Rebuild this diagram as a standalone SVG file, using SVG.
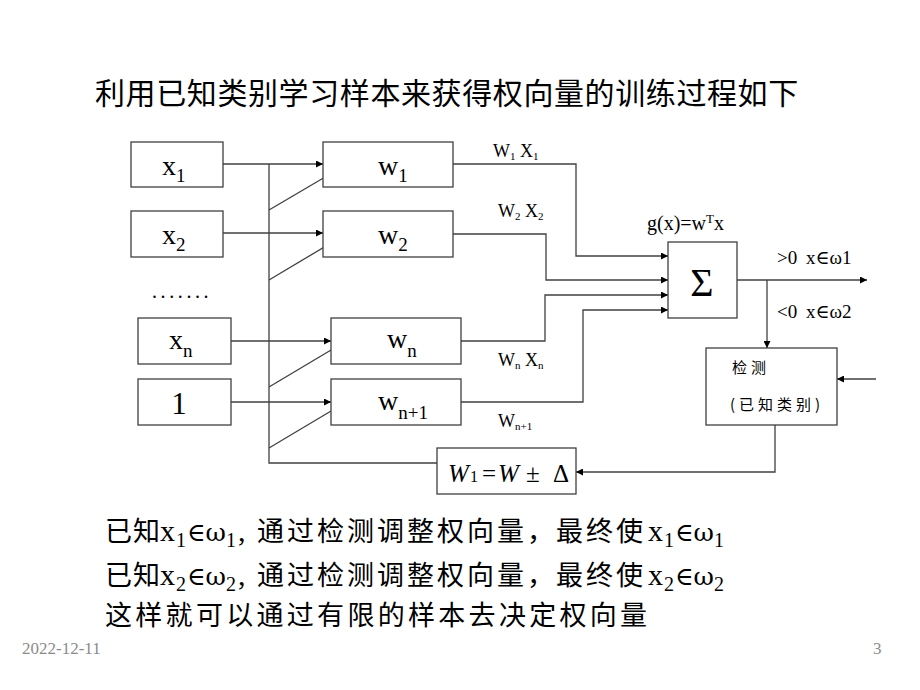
<svg xmlns="http://www.w3.org/2000/svg" width="920" height="690" viewBox="0 0 920 690">
<defs>
<marker id="ah" viewBox="0 0 10 10" refX="10" refY="5" markerWidth="9" markerHeight="7" markerUnits="userSpaceOnUse" orient="auto">
<path d="M0,0 L10,5 L0,10 z" fill="#000"/>
</marker>
<style>
.box{fill:#fff;stroke:#404040;stroke-width:1.3}
.ln{fill:none;stroke:#404040;stroke-width:1.3}
.a{marker-end:url(#ah)}
.m{font-family:"Liberation Serif","DejaVu Serif",serif;fill:#000}
.dv{font-family:"DejaVu Serif","Liberation Serif",serif;fill:#000}
.cjk{font-family:"Noto Sans CJK SC","Noto Sans",sans-serif;fill:#000}
.lbl{font-family:"Liberation Serif","DejaVu Serif",serif;font-size:18px;fill:#000}
</style>
</defs>
<rect width="920" height="690" fill="#fff"/>
<text class="cjk" x="95" y="104" font-size="30" letter-spacing="0.6">利用已知类别学习样本来获得权向量的训练过程如下</text>

<g id="connectors">
<path class="ln a" d="M223,164 H323"/>
<path class="ln a" d="M223,233 H323"/>
<path class="ln a" d="M231,341 H331"/>
<path class="ln a" d="M231,402 H331"/>
<path class="ln" d="M269,164 V463 H437"/>
<path class="ln a" d="M269,210 L383,143"/>
<path class="ln a" d="M269,280 L383,212"/>
<path class="ln a" d="M269,387 L383,319"/>
<path class="ln a" d="M269,448 L383,380"/>
<path class="ln a" d="M453,164 H576 V256 H668"/>
<path class="ln a" d="M453,234 H546 V280 H668"/>
<path class="ln a" d="M461,341 H545 V295 H668"/>
<path class="ln a" d="M461,402 H583 V310 H668"/>
<path class="ln a" d="M737,280 H867"/>
<path class="ln a" d="M767,280 V348"/>
<path class="ln a" d="M876,379 H837"/>
<path class="ln a" d="M775,425 V472 H576"/>
</g>

<g id="x1"><rect class="box" x="131" y="142" width="92" height="45"/>
<text class="m" x="162" y="175" font-size="28">x<tspan font-size="19" dy="7">1</tspan></text></g>
<g id="x2"><rect class="box" x="131" y="211" width="92" height="46"/>
<text class="m" x="162" y="244" font-size="28">x<tspan font-size="19" dy="7">2</tspan></text></g>
<text class="m" x="152" y="298" font-size="20" letter-spacing="3.6">.......</text>
<g id="xn"><rect class="box" x="138" y="318" width="93" height="46"/>
<text class="m" x="169" y="349" font-size="28">x<tspan font-size="19" dy="8">n</tspan></text></g>
<g id="one"><rect class="box" x="138" y="379" width="93" height="46"/>
<text class="m" x="179" y="414" font-size="31" text-anchor="middle">1</text></g>

<g id="w1"><rect class="box" x="323" y="142" width="130" height="45"/>
<text class="m" x="378" y="175" font-size="28">w<tspan font-size="19" dy="7">1</tspan></text></g>
<g id="w2"><rect class="box" x="323" y="211" width="130" height="46"/>
<text class="m" x="378" y="244" font-size="28">w<tspan font-size="19" dy="7">2</tspan></text></g>
<g id="wn"><rect class="box" x="331" y="318" width="130" height="46"/>
<text class="m" x="387" y="348" font-size="28">w<tspan font-size="19" dy="9">n</tspan></text></g>
<g id="wn1"><rect class="box" x="331" y="379" width="130" height="46"/>
<text class="m" x="378" y="410" font-size="28">w<tspan font-size="19" dy="9">n+1</tspan></text></g>

<text class="lbl" x="493" y="157">W<tspan font-size="11" dy="3">1</tspan><tspan dy="-3"> X</tspan><tspan font-size="11" dy="3">1</tspan></text>
<text class="lbl" x="498" y="217">W<tspan font-size="11" dy="3">2</tspan><tspan dy="-3"> X</tspan><tspan font-size="11" dy="3">2</tspan></text>
<text class="lbl" x="498" y="366">W<tspan font-size="11" dy="3">n</tspan><tspan dy="-3"> X</tspan><tspan font-size="11" dy="3">n</tspan></text>
<text class="lbl" x="498" y="427">W<tspan font-size="11" dy="3">n+1</tspan></text>

<g id="sum"><rect class="box" x="668" y="242" width="69" height="76"/>
<text class="m" x="702" y="296" font-size="40" text-anchor="middle">Σ</text></g>
<text class="m" x="647" y="230" font-size="20">g(x)=w<tspan font-size="13" dy="-7">T</tspan><tspan dy="7">x</tspan></text>
<text class="m" y="264" font-size="19"><tspan x="777">&gt;0</tspan><tspan x="806">x∈ω1</tspan></text>
<text class="m" y="318" font-size="19"><tspan x="777">&lt;0</tspan><tspan x="806">x∈ω2</tspan></text>

<g id="detect"><rect class="box" x="706" y="348" width="131" height="77"/>
<text class="cjk" x="732" y="373" font-size="15" letter-spacing="4">检测</text>
<text class="cjk" x="730" y="410" font-size="15" letter-spacing="4">(已知类别)</text></g>

<g id="update"><rect class="box" x="437" y="448" width="139" height="46"/>
<text class="m" y="482" font-size="25"><tspan x="448" font-style="italic">W</tspan><tspan x="470" font-size="16">1</tspan><tspan x="482">=</tspan><tspan x="498" font-style="italic">W</tspan><tspan x="526">±</tspan><tspan x="553">Δ</tspan></text></g>

<text class="cjk" x="105" y="541" font-size="27" letter-spacing="1">已知</text>
<text class="m" y="541" font-size="30"><tspan x="160">x</tspan><tspan x="176" y="547" font-size="20">1</tspan><tspan x="187" y="541" class="dv" font-size="25">∈ω</tspan><tspan x="226" y="547" font-size="20">1</tspan><tspan x="238" y="541">,</tspan></text>
<text class="cjk" y="541" font-size="27" letter-spacing="3"><tspan x="257">通过检测调整权向量，</tspan><tspan x="556">最终使</tspan></text>
<text class="m" y="541" font-size="30"><tspan x="648">x</tspan><tspan x="664" y="547" font-size="20">1</tspan><tspan x="675" y="541" class="dv" font-size="25">∈ω</tspan><tspan x="714" y="547" font-size="20">1</tspan></text>

<text class="cjk" x="105" y="585" font-size="27" letter-spacing="1">已知</text>
<text class="m" y="585" font-size="30"><tspan x="160">x</tspan><tspan x="176" y="591" font-size="20">2</tspan><tspan x="187" y="585" class="dv" font-size="25">∈ω</tspan><tspan x="226" y="591" font-size="20">2</tspan><tspan x="238" y="585">,</tspan></text>
<text class="cjk" y="585" font-size="27" letter-spacing="3"><tspan x="257">通过检测调整权向量，</tspan><tspan x="556">最终使</tspan></text>
<text class="m" y="585" font-size="30"><tspan x="648">x</tspan><tspan x="664" y="591" font-size="20">2</tspan><tspan x="675" y="585" class="dv" font-size="25">∈ω</tspan><tspan x="714" y="591" font-size="20">2</tspan></text>

<text class="cjk" x="105" y="625" font-size="27" letter-spacing="3.3">这样就可以通过有限的样本去决定权向量</text>

<text x="22" y="654" font-family="Liberation Serif, serif" font-size="17" fill="#8c8c8c">2022-12-11</text>
<text x="873" y="654" font-family="Liberation Serif, serif" font-size="17" fill="#8c8c8c">3</text>
</svg>
